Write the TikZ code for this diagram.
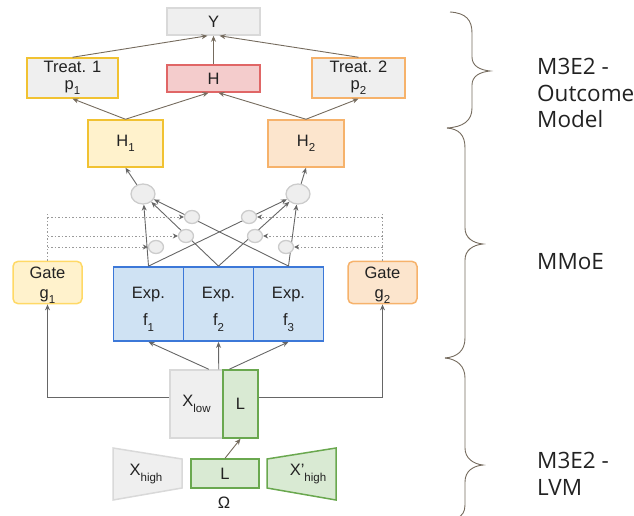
\documentclass[tikz,border=0pt]{standalone}
\usepackage{fontspec}
\setmainfont{Liberation Sans}
\newfontfamily\osans{Open Sans}
\usetikzlibrary{arrows.meta,shapes.geometric,calc}
\definecolor{grayfill}{HTML}{EFEFEF}
\definecolor{grayline}{HTML}{D9D9D9}
\definecolor{yel}{HTML}{F1C232}
\definecolor{yelfill}{HTML}{FFF2CC}
\definecolor{yellight}{HTML}{FFD966}
\definecolor{ora}{HTML}{F6B26B}
\definecolor{orafill}{HTML}{FCE5CD}
\definecolor{redl}{HTML}{E06666}
\definecolor{redfill}{HTML}{F4CCCC}
\definecolor{expline}{HTML}{3C78D8}
\definecolor{expfill}{HTML}{CFE2F3}
\definecolor{grn}{HTML}{6AA84F}
\definecolor{grnfill}{HTML}{D9EAD3}
\definecolor{taupe}{HTML}{756B5E}
\definecolor{arrg}{HTML}{666666}
\definecolor{dotg}{HTML}{9A9A9A}
\definecolor{circline}{HTML}{CCCCCC}
\definecolor{circfill}{HTML}{EEEEEE}
\definecolor{txt}{HTML}{222222}
\newcommand{\sbs}[1]{\raisebox{-0.32em}{\fontsize{11.5}{11.5}\selectfont #1}}
\tikzset{
  box/.style={draw, line width=1.5pt, inner sep=0pt, align=center, text=txt,
    font=\fontsize{16.5}{17}\selectfont},
  expbox/.style={box, draw=expline, fill=expfill, line width=1.8pt,
    minimum width=70pt, minimum height=74pt, font=\fontsize{16.5}{27}\selectfont},
  gatebox/.style={box, rounded corners=5pt, minimum width=69pt, minimum height=41pt,
    font=\fontsize{16.5}{20}\selectfont},
  bigc/.style={ellipse, draw=circline, fill=circfill, line width=1.3pt,
    minimum width=24pt, minimum height=20pt, inner sep=0pt},
  smallc/.style={ellipse, draw=circline, fill=circfill, line width=1.3pt,
    minimum width=15pt, minimum height=13pt, inner sep=0pt},
  tarr/.style={draw=taupe, line width=0.9pt, -{Stealth[length=6pt,width=5pt]}},
  garr/.style={draw=arrg, line width=0.9pt, -{Stealth[length=6pt,width=5pt]}},
  dotl/.style={draw=dotg, line width=0.8pt, dash pattern=on 1.5pt off 2pt},
  darr/.style={dotl, -{Stealth[length=5pt,width=5pt,color=arrg]}},
  brace/.style={draw=taupe, line width=0.9pt},
  plain/.style={inner sep=0pt, text=txt, font=\fontsize{16.5}{17}\selectfont},
  lbl/.style={anchor=west, align=left, inner sep=0pt, text=txt,
    font=\osans\fontsize{22.5}{26.5}\selectfont},
}
\begin{document}
\begin{tikzpicture}[x=1pt, y=-1pt]
\useasboundingbox (0,0) rectangle (634,516);

% outcome model
\node[box, draw=grayline, fill=grayfill, minimum width=93pt, minimum height=27pt] (Y) at (213.5,21.5) {Y};
\node[box, draw=yel, fill=grayfill, minimum width=91pt, minimum height=40pt] (t1) at (72.5,78) {Treat. 1\\p\sbs{1}};
\node[box, draw=redl, fill=redfill, minimum width=93pt, minimum height=27pt] (H) at (213.5,78.5) {H};
\node[box, draw=ora, fill=grayfill, minimum width=93pt, minimum height=40pt] (t2) at (358.5,78) {Treat. 2\\p\sbs{2}};
\node[box, draw=yel, fill=yelfill, minimum width=75pt, minimum height=47pt] (H1) at (125.5,143.5) {H\sbs{1}};
\node[box, draw=ora, fill=orafill, minimum width=76pt, minimum height=47pt] (H2) at (306,143.5) {H\sbs{2}};

\draw[tarr] (t1.north) -- ($(Y.south)+(-6,0)$);
\draw[tarr] (H.north) -- (Y.south);
\draw[tarr] (t2.north) -- ($(Y.south)+(6,0)$);
\draw[tarr] (H1.north) -- (t1.south);
\draw[tarr] (H1.north) -- ($(H.south)+(-5,0)$);
\draw[tarr] (H2.north) -- ($(H.south)+(5,0)$);
\draw[tarr] (H2.north) -- (t2.south);

% MMoE
\node[expbox] (f1) at (148.5,304) {\rule{0pt}{22pt}Exp.\\f\sbs{1}};
\node[expbox] (f2) at (218.5,304) {\rule{0pt}{22pt}Exp.\\f\sbs{2}};
\node[expbox] (f3) at (288.5,304) {\rule{0pt}{22pt}Exp.\\f\sbs{3}};
\node[gatebox, draw=yellight, fill=yelfill] (g1) at (47.5,282.5) {\rule{0pt}{17pt}Gate\\g\sbs{1}};
\node[gatebox, draw=ora, fill=orafill] (g2) at (382.5,282.5) {\rule{0pt}{17pt}Gate\\g\sbs{2}};

\node[bigc] (bL) at (143,194) {};
\node[bigc] (bR) at (298,194) {};
\draw[garr] (bL) -- (H1.south);
\draw[garr] (bR) -- (H2.south);

\draw[garr] (f1.north) -- (bL);
\draw[garr] (f1.north) -- (bR);
\draw[garr] (f2.north) -- (bL);
\draw[garr] (f2.north) -- (bR);
\draw[garr] (f3.north) -- (bL);
\draw[garr] (f3.north) -- (bR);

\node[smallc] (sTL) at (192,217) {};
\node[smallc] (sML) at (186,236) {};
\node[smallc] (sBL) at (156,247) {};
\node[smallc] (sTR) at (249,217) {};
\node[smallc] (sMR) at (255,236) {};
\node[smallc] (sBR) at (286,247) {};

\draw[dotl] (g1.north) -- (47.5,212);
\draw[dotl] (g2.north) -- (382.5,212);
\draw[darr] (g1.north |- sTL) -- (sTL);
\draw[darr] (g1.north |- sML) -- (sML);
\draw[darr] (g1.north |- sBL) -- (sBL);
\draw[darr] (g2.north |- sTR) -- (sTR);
\draw[darr] (g2.north |- sMR) -- (sMR);
\draw[darr] (g2.north |- sBR) -- (sBR);

% LVM
\node[box, draw=grayline, fill=grayfill, minimum width=53pt, minimum height=68pt] (xlow) at (196.5,404) {X\sbs{low}};
\node[box, draw=grn, fill=grnfill, minimum width=35pt, minimum height=68pt] (lup) at (240.5,404) {L};

\coordinate (c1) at (47.5,397);
\coordinate (c2) at (382.5,397);
\draw[garr] (xlow.west |- c1) -- (c1) -- (g1.south);
\draw[garr] (lup.east |- c2) -- (c2) -- (g2.south);
\draw[garr] ($(xlow.north east)+(-15,0)$) -- (f1.south);
\draw[garr] ($(xlow.north east)+(-5,0)$) -- (f2.south);
\draw[garr] ($(lup.north west)+(7,0)$) -- (f3.south);

\draw[line width=1.5pt, draw=grayline, fill=grayfill] (113,448) -- (182,459) -- (182,488) -- (113,500) -- cycle;
\node[plain] (xhigh) at (146,474) {X\sbs{high}};
\node[box, draw=grn, fill=grnfill, minimum width=68pt, minimum height=29pt] (lbot) at (225,473.5) {L};
\draw[line width=1.5pt, draw=grn, fill=grnfill] (267,459) -- (336,448) -- (336,500) -- (267,488) -- cycle;
\node[plain] (xhp) at (308,474) {X'\sbs{high}};
\node[plain] (om) at (224,503) {Ω};
\draw[tarr] (lbot.north) -- (lup.south);

% braces
\draw[brace] (450,12) .. controls (466,13) and (472,20) .. (472,33) -- (472,57)
  .. controls (472,66) and (480,70) .. (490,71) .. controls (480,72) and (472,76) .. (472,85)
  -- (472,108) .. controls (472,121) and (463,127) .. (447,128);
\draw[brace] (447,128) .. controls (459,129) and (465,135) .. (465,148) -- (465,228)
  .. controls (465,238) and (473,243) .. (483,244) .. controls (473,245) and (465,250) .. (465,260)
  -- (465,338) .. controls (465,351) and (457,357) .. (445,358);
\draw[brace] (445,358) .. controls (457,359) and (465,366) .. (465,378) -- (465,448)
  .. controls (465,458) and (473,464) .. (483,465) .. controls (473,466) and (465,471) .. (465,482)
  -- (465,505) .. controls (465,512) and (462,516) .. (457,518);

\node[lbl] (lab1) at (537,93) {M3E2 -\\Outcome\\Model};
\node[lbl] (lab2) at (537,262) {MMoE};
\node[lbl] (lab3) at (537,474) {M3E2 -\\LVM};
\end{tikzpicture}
\end{document}
